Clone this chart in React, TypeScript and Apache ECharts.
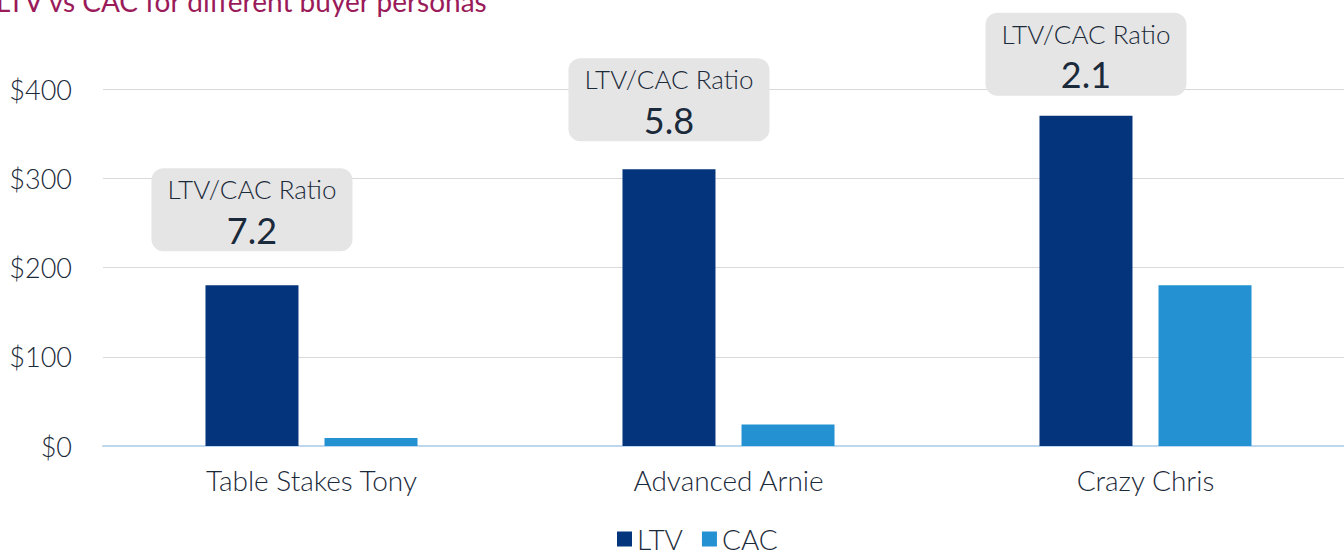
import React, { useEffect, useRef } from "react";
import * as echarts from "echarts";

const categories = ["Table Stakes Tony", "Advanced Arnie", "Crazy Chris"];
const ltvValues = [180, 310, 370];
const cacValues = [9, 24, 180];
const ratioLabels = ["7.2", "5.8", "2.1"];
const calloutGaps = [34, 28, 20];
const yTicks = [0, 100, 200, 300, 400];

const TEXT = "#1b2a3a";
const FONT = "Lato";

export default function App() {
  const ref = useRef<HTMLDivElement>(null);
  useEffect(() => {
    if (!ref.current) return;
    const chart = echarts.init(ref.current, null, { renderer: "svg" });
    chart.setOption({
      animation: false,
      textStyle: { fontFamily: FONT },
      title: {
        text: "LTV vs CAC for different buyer personas",
        left: -4,
        top: -13,
        padding: 0,
        textStyle: { fontFamily: FONT, fontSize: 28, fontWeight: "normal", color: "#9a1a5a" },
      },
      legend: {
        data: ["LTV", "CAC"],
        top: 520,
        left: 612,
        icon: "rect",
        itemWidth: 15,
        itemHeight: 15,
        itemGap: 19,
        textStyle: { fontFamily: FONT, fontSize: 28, fontWeight: 300, color: TEXT, padding: [0, 0, 0, 0] },
      },
      grid: { left: 103, right: 0, top: 89, bottom: 104, containLabel: false },
      xAxis: {
        type: "category",
        data: categories,
        axisTick: { show: false },
        axisLine: { lineStyle: { color: "#bdd7ee", width: 2 } },
        axisLabel: { fontFamily: FONT, fontSize: 28, fontWeight: 300, color: TEXT, margin: 20 },
      },
      yAxis: {
        type: "value",
        min: yTicks[0],
        max: yTicks[yTicks.length - 1],
        interval: 100,
        axisLine: { show: false },
        axisTick: { show: false },
        splitLine: { lineStyle: { color: "#d9d9d9", width: 1 } },
        axisLabel: {
          fontFamily: FONT,
          fontSize: 27,
          fontWeight: 300,
          color: TEXT,
          margin: 31,
          formatter: (v: number) => "$" + v,
        },
      },
      series: [
        {
          name: "LTV",
          type: "bar",
          barWidth: 93,
          barGap: "28%",
          itemStyle: { color: "#04347b" },
          data: ltvValues.map((v, i) => ({
            value: v,
            label: { distance: calloutGaps[i] },
          })),
          label: {
            show: true,
            position: "top",
            backgroundColor: "#e5e5e5",
            borderRadius: 12,
            padding: [2, 0, 0, 0],
            formatter: (p: any) => "{a|LTV/CAC Ratio}\n{b|" + ratioLabels[p.dataIndex] + "}",
            rich: {
              a: { fontFamily: FONT, fontSize: 26, fontWeight: 300, color: TEXT, width: 201, align: "center", lineHeight: 38 },
              b: { fontFamily: FONT, fontSize: 36, fontWeight: 400, color: TEXT, width: 201, align: "center", lineHeight: 43 },
            },
          },
        },
        {
          name: "CAC",
          type: "bar",
          barWidth: 93,
          itemStyle: { color: "#2391d2" },
          data: cacValues,
        },
      ],
    });
    return () => chart.dispose();
  }, []);
  return (
    <div
      ref={ref}
      style={{ position: "fixed", left: 0, top: 0, width: 1354, height: 550, background: "#fff" }}
    />
  );
}
